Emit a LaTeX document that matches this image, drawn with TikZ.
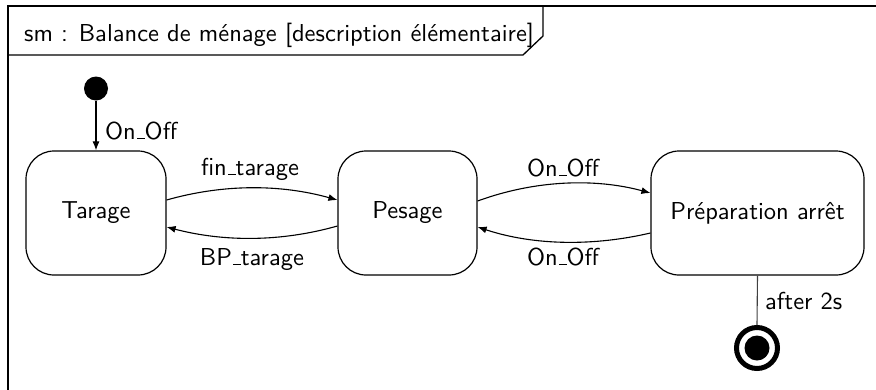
\documentclass[tikz,border=0pt]{standalone}
\usepackage{fontspec}
\setsansfont{lmsans10-regular.otf}
\usetikzlibrary{arrows.meta}
% low rule used as underscore in the event names
\newcommand{\usc}{\leavevmode\kern.06em\vbox{\hrule height 1pt width .3em}}
\begin{document}
\begin{tikzpicture}[x=1pt,y=-1pt,
  font=\sffamily\fontsize{24.5}{29}\selectfont,
  state/.style={draw, line width=1.2pt, rounded corners=28pt,
                minimum height=124pt, inner sep=0pt},
  trans/.style={line width=1.1pt, -{Latex[length=9pt,width=7pt]}},
  lbl/.style={inner sep=0pt},
  framepen/.style={line width=1.5pt}]
\useasboundingbox (0,0) rectangle (876,389);
\clip (0,0) rectangle (876,389);

% frame of the state machine and its name tab
\draw[framepen] (8,420) -- (8,6) -- (900,6);
\node[lbl, anchor=base west] (title) at (24,41)
  {sm : Balance de ménage [description élémentaire]};
\draw[line width=1.3pt] (8,55) -- (523,55) -- (543,36) -- (543,6);

% states
\node[state, minimum width=140pt] (tarage) at (96,213) {Tarage};
\node[state, minimum width=139pt] (pesage) at (407.5,213) {Pesage};
\node[state, minimum width=213pt] (prep) at (757.5,213) {Préparation arrêt};

% pseudo states
\node[circle, fill, inner sep=0pt, minimum size=24pt] (init) at (96,88.5) {};
\node[circle, draw, line width=5pt, inner sep=0pt, minimum size=41pt] (final) at (757,348) {};
\node[circle, fill, inner sep=0pt, minimum size=25pt] (finaldot) at (final) {};

% transitions
\draw[trans] (init) -- (tarage.north);
\draw[trans] ([yshift=13pt]tarage.east) .. controls (223,184) and (280,184) .. ([yshift=13pt]pesage.west);
\draw[trans] ([yshift=-13pt]pesage.west) .. controls (281,242) and (224,242) .. ([yshift=-14pt]tarage.east);
\draw[trans] ([yshift=12pt]pesage.east) .. controls (535,180) and (595,178) .. ([yshift=20pt]prep.west);
\draw[trans] ([yshift=-20pt]prep.west) .. controls (595,246) and (535,246) .. ([yshift=-14pt]pesage.east);
\draw[line width=1.1pt, black!75] (prep.south) -- (final.north);

% transition labels
\node[lbl, anchor=base west] (l1) at (105,139) {On\usc Off};
\node[lbl, anchor=base] (l2) at (250,175) {fin\usc tarage};
\node[lbl, anchor=base] (l3) at (252,265) {BP\usc tarage};
\node[lbl, anchor=base] (l4) at (563,176) {On\usc Off};
\node[lbl, anchor=base] (l5) at (563,265) {On\usc Off};
\node[lbl, anchor=base west] (l6) at (765,309) {after 2s};
\end{tikzpicture}
\end{document}
